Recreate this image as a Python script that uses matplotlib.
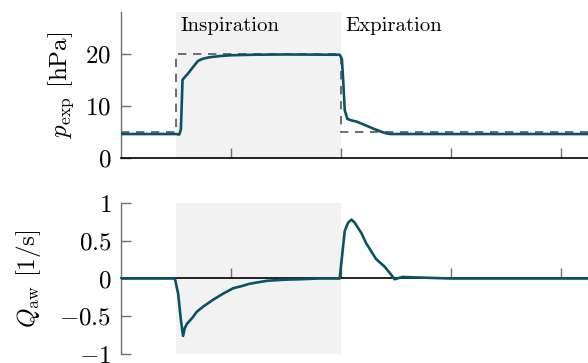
import numpy as np
import matplotlib
matplotlib.use("Agg")
import matplotlib.pyplot as plt

plt.rcParams["font.family"] = "serif"
plt.rcParams["font.serif"] = ["cmr10"]
plt.rcParams["mathtext.fontset"] = "cm"
plt.rcParams["axes.formatter.use_mathtext"] = True

# ---------------- data ----------------
# expiratory pressure, measured
t_p = [0.0, 0.3, 0.5, 0.53, 0.545, 0.56, 0.58, 0.61, 0.65, 0.70, 0.74, 0.80,
       0.90, 1.00, 1.20, 1.50, 1.99, 2.01, 2.02, 2.036, 2.06, 2.10, 2.14, 2.20,
       2.30, 2.40, 2.45, 2.60, 3.00, 3.50, 4.00, 4.25]
p_meas = [4.6, 4.6, 4.6, 4.5, 5.5, 15.0, 15.5, 16.2, 17.3, 18.6, 19.0, 19.3,
          19.55, 19.7, 19.8, 19.85, 19.8, 19.0, 15.6, 9.2, 7.5, 7.2, 7.0, 6.5,
          5.6, 4.8, 4.6, 4.6, 4.6, 4.6, 4.6, 4.6]

# expiratory pressure, setpoint
t_set = [0.0, 0.5, 0.5, 2.0, 2.0, 4.25]
p_set = [5, 5, 20, 20, 5, 5]

# airway flow
t_q = [0.0, 0.49, 0.52, 0.545, 0.565, 0.58, 0.60, 0.65, 0.69, 0.75, 0.84, 0.93,
       1.02, 1.10, 1.17, 1.33, 1.50, 1.63, 1.80, 1.99, 2.036, 2.067, 2.097,
       2.127, 2.188, 2.23, 2.32, 2.40, 2.445, 2.49, 2.56, 3.0, 3.5, 4.0, 4.25]
q_aw = [0.0, 0.0, -0.2, -0.55, -0.76, -0.66, -0.60, -0.52, -0.44, -0.37, -0.28,
        -0.20, -0.13, -0.10, -0.07, -0.03, -0.015, -0.01, 0.0, 0.0, 0.63, 0.74,
        0.78, 0.74, 0.60, 0.47, 0.26, 0.155, 0.075, -0.01, 0.02, 0.0, 0.0, 0.0, 0.0]

insp_start, insp_end = 0.5, 2.0
line_col = "#0a5364"
spine_gray = "#707070"

fig = plt.figure(figsize=(5.88, 3.63), dpi=100)
ax1 = fig.add_axes([0.2058, 0.5647, 0.7942, 0.4023])
ax2 = fig.add_axes([0.2058, 0.0248, 0.7942, 0.4160])

for ax in (ax1, ax2):
    ax.axvspan(insp_start, insp_end, color="#f2f2f2", lw=0, zorder=0)
    ax.set_xlim(0, 4.25)
    ax.spines["top"].set_visible(False)
    ax.spines["right"].set_visible(False)
    ax.spines["left"].set_color(spine_gray)
    ax.spines["left"].set_linewidth(1.0)
    ax.spines["bottom"].set_color("black")
    ax.spines["bottom"].set_linewidth(1.2)
    ax.set_xticks([1, 2, 3, 4])
    ax.tick_params(axis="x", direction="in", length=7, width=1.0,
                   color=spine_gray, labelbottom=False)
    ax.tick_params(axis="y", direction="in", length=7, width=1.0,
                   color=spine_gray, labelsize=18, pad=7)

# top: pressure
ax1.plot(t_set, p_set, color="#555555", lw=1.2, dashes=(5, 4), zorder=2)
ax1.plot(t_p, p_meas, color=line_col, lw=1.9, zorder=3)
ax1.set_ylim(0, 28)
ax1.set_yticks([0, 10, 20])
ax1.set_yticklabels(["$0$", "$10$", "$20$"])
ax1.set_ylabel(r"$p_\mathrm{exp}$ [hPa]", fontsize=18, labelpad=7)
ax1.text(0.54, 25.3, "Inspiration", fontsize=15, va="center")
ax1.text(2.045, 25.3, "Expiration", fontsize=15, va="center")

# bottom: flow
ax2.plot(t_q, q_aw, color=line_col, lw=1.9, zorder=3)
ax2.set_ylim(-1, 1)
ax2.spines["bottom"].set_position(("data", 0))
ax2.spines["bottom"].set_zorder(2)
ax2.set_yticks([-1, -0.5, 0, 0.5, 1])
ax2.set_yticklabels(["$-1$", "$-0.5$", "$0$", "$0.5$", "$1$"])
ax2.set_ylabel(r"$Q_\mathrm{aw}$ [1/s]", fontsize=18, labelpad=12)

fig.savefig("out.png", dpi=100)
